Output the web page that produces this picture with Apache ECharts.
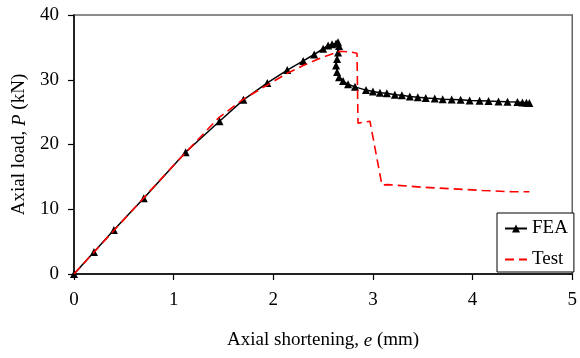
<!DOCTYPE html>
<html>
<head>
<meta charset="utf-8">
<script src="https://cdn.jsdelivr.net/npm/echarts@6/dist/echarts.min.js"></script>
<style>
  html, body { margin: 0; padding: 0; background: #fff; }
  #chart { width: 580px; height: 358px; }
</style>
</head>
<body>
<div id="chart"></div>
<script>
// Axial shortening e (mm) and axial load P (kN)
const feaShortening = [0, 0.2, 0.4, 0.7, 1.12, 1.46, 1.7, 1.94, 2.14, 2.3, 2.41, 2.5, 2.55, 2.59, 2.63, 2.65,
  2.66, 2.65, 2.64, 2.63, 2.64, 2.66, 2.7, 2.75, 2.82, 2.93, 3.0, 3.07, 3.14, 3.22, 3.29, 3.37, 3.45, 3.53,
  3.62, 3.7, 3.79, 3.88, 3.97, 4.07, 4.16, 4.26, 4.35, 4.45, 4.5, 4.54, 4.57];
const feaLoad = [0, 3.4, 6.8, 11.7, 18.8, 23.6, 26.9, 29.5, 31.5, 32.9, 33.9, 34.8, 35.3, 35.5, 35.6, 35.8,
  35.2, 34.2, 33.2, 32.2, 31.2, 30.4, 29.8, 29.3, 28.9, 28.4, 28.2, 28.0, 27.9, 27.7, 27.6, 27.4, 27.3, 27.2,
  27.1, 27.0, 26.95, 26.9, 26.8, 26.75, 26.7, 26.65, 26.6, 26.55, 26.5, 26.45, 26.4];

const testShortening = [0, 0.5, 1.0, 1.45, 1.7, 1.92, 2.14, 2.3, 2.5, 2.67, 2.77, 2.84, 2.85, 2.97, 3.09,
  3.15, 3.5, 3.8, 4.1, 4.4, 4.57];
const testLoad = [0, 8.4, 16.8, 24.1, 27.0, 29.0, 31.0, 32.2, 33.5, 34.4, 34.3, 34.1, 23.3, 23.6, 13.75,
  13.8, 13.4, 13.15, 12.9, 12.7, 12.7];

const xTicks = { min: 0, max: 5, step: 1 };
const yTicks = { min: 0, max: 40, step: 10 };

const pair = (xs, ys) => xs.map((x, i) => [x, ys[i]]);

const serif = 'Liberation Serif';
const fs = 19;
const richName = {
  n: { fontFamily: serif, fontSize: fs, color: '#000' },
  i: { fontFamily: serif, fontSize: fs, color: '#000', fontStyle: 'italic' }
};
const chart = echarts.init(document.getElementById('chart'), null, { renderer: 'canvas' });

chart.setOption({
  animation: false,
  backgroundColor: '#fff',
  textStyle: { fontFamily: serif },
  grid: {
    left: 74, right: 5, top: 15, bottom: 84,
    show: true, borderColor: '#666', borderWidth: 1.5, backgroundColor: 'transparent'
  },
  legend: {
    orient: 'vertical',
    left: 497, top: 213,
    padding: [6, 6, 3, 7],
    itemWidth: 22, itemHeight: 10, itemGap: 12,
    backgroundColor: '#fff',
    borderColor: '#000', borderWidth: 1,
    textStyle: { fontFamily: serif, fontSize: fs, color: '#000' },
    data: [
      { name: 'FEA' },
      { name: 'Test', itemStyle: { opacity: 0 } }
    ]
  },
  xAxis: {
    type: 'value',
    min: xTicks.min, max: xTicks.max, interval: xTicks.step,
    name: '{n|Axial shortening, }{i|e}{n| (mm)}',
    nameLocation: 'middle', nameGap: 57,
    nameTextStyle: { rich: richName },
    axisLine: { lineStyle: { color: '#000', width: 1.5 } },
    axisTick: { inside: false, length: 6, lineStyle: { color: '#000', width: 1.2 } },
    axisLabel: { margin: 17, fontFamily: serif, fontSize: fs, color: '#000' },
    splitLine: { show: false }
  },
  yAxis: {
    type: 'value',
    min: yTicks.min, max: yTicks.max, interval: yTicks.step,
    name: '{n|Axial load, }{i|P}{n| (kN)}',
    nameLocation: 'middle', nameGap: 45, nameRotate: 90,
    nameTextStyle: { rich: richName },
    axisLine: { lineStyle: { color: '#000', width: 1.5 } },
    axisTick: { inside: false, length: 6, lineStyle: { color: '#000', width: 1.2 } },
    axisLabel: { margin: 15, fontFamily: serif, fontSize: fs, color: '#000' },
    splitLine: { show: false }
  },
  series: [
    {
      name: 'FEA',
      type: 'line',
      data: pair(feaShortening, feaLoad),
      showSymbol: true,
      symbol: 'triangle',
      symbolSize: 8,
      itemStyle: { color: '#000' },
      lineStyle: { color: '#000', width: 1.5 },
      z: 2
    },
    {
      name: 'Test',
      type: 'line',
      data: pair(testShortening, testLoad),
      symbol: 'none',
      itemStyle: { color: '#ff0000' },
      lineStyle: { color: '#ff0000', width: 1.6, type: [9, 5] },
      z: 3
    }
  ]
});
</script>
</body>
</html>
